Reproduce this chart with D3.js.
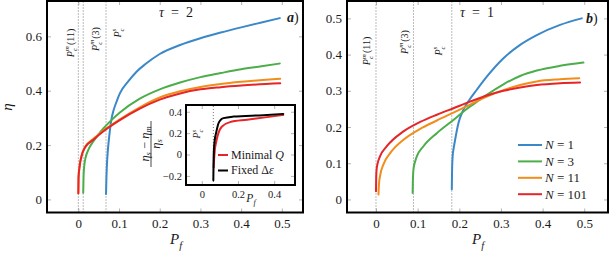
<!DOCTYPE html>
<html>
<head>
<meta charset="utf-8">
<script src="https://cdn.jsdelivr.net/npm/d3@7"></script>
<style>
  body { margin: 0; background: #fff; }
  svg text { font-family: "Liberation Serif", serif; fill: #1a1a1a; }
</style>
</head>
<body>
<svg id="chart" width="609" height="258" font-family="Liberation Serif"></svg>
<script>
// ---- data: panel a (tau = 2), [P_f, eta] ----
const tau2N1 = [[0.068,0.02],[0.069,0.08],[0.070,0.12],[0.072,0.17],[0.075,0.22],[0.078,0.26],[0.082,0.30],[0.086,0.325],[0.094,0.36],[0.102,0.39],[0.123,0.435],[0.143,0.47],[0.164,0.497],[0.2,0.535],[0.25,0.568],[0.3,0.593],[0.35,0.614],[0.4,0.633],[0.45,0.651],[0.495,0.667]];
const tau2N3 = [[0.012,0.025],[0.0125,0.06],[0.013,0.092],[0.015,0.13],[0.018,0.155],[0.025,0.184],[0.037,0.214],[0.05,0.24],[0.061,0.26],[0.08,0.29],[0.102,0.32],[0.15,0.37],[0.2,0.405],[0.25,0.43],[0.3,0.45],[0.35,0.465],[0.4,0.479],[0.45,0.49],[0.495,0.5]];
const tau2N11 = [[0.0,0.024],[0.0005,0.08],[0.003,0.122],[0.008,0.162],[0.016,0.192],[0.037,0.223],[0.061,0.253],[0.1,0.293],[0.15,0.338],[0.2,0.375],[0.25,0.398],[0.3,0.414],[0.35,0.425],[0.4,0.433],[0.496,0.444]];
const tau2N101 = [[0.0,0.022],[0.0005,0.08],[0.003,0.12],[0.008,0.16],[0.016,0.19],[0.037,0.22],[0.061,0.25],[0.1,0.29],[0.15,0.333],[0.2,0.367],[0.25,0.39],[0.3,0.405],[0.35,0.413],[0.4,0.419],[0.496,0.427]];

// ---- data: panel b (tau = 1) ----
const tau1N1 = [[0.182,0.028],[0.1825,0.07],[0.184,0.119],[0.187,0.145],[0.19,0.165],[0.198,0.211],[0.21,0.248],[0.226,0.278],[0.242,0.303],[0.266,0.339],[0.306,0.39],[0.346,0.427],[0.386,0.454],[0.442,0.482],[0.494,0.5]];
const tau1N3 = [[0.088,0.018],[0.0885,0.05],[0.09,0.083],[0.094,0.105],[0.098,0.119],[0.114,0.147],[0.146,0.183],[0.182,0.216],[0.218,0.25],[0.25,0.276],[0.266,0.289],[0.306,0.318],[0.346,0.341],[0.386,0.356],[0.442,0.369],[0.498,0.378]];
const tau1N11 = [[0.006,0.014],[0.007,0.04],[0.0096,0.064],[0.0176,0.096],[0.034,0.128],[0.066,0.165],[0.106,0.195],[0.146,0.218],[0.186,0.24],[0.226,0.262],[0.266,0.284],[0.306,0.302],[0.346,0.316],[0.386,0.326],[0.442,0.332],[0.488,0.335]];
const tau1N101 = [[0.0,0.023],[0.0005,0.06],[0.0015,0.083],[0.004,0.1],[0.0096,0.119],[0.026,0.147],[0.066,0.188],[0.106,0.214],[0.146,0.234],[0.186,0.252],[0.226,0.27],[0.266,0.287],[0.306,0.3],[0.346,0.309],[0.386,0.316],[0.442,0.321],[0.49,0.323]];

// ---- inset: (eta_s - eta_m)/eta_s ----
const insetFixed = [[0.064,-0.24],[0.065,-0.1],[0.067,0.04],[0.072,0.14],[0.079,0.2],[0.092,0.29],[0.105,0.325],[0.12,0.34],[0.175,0.355],[0.34,0.368],[0.45,0.38]];
const insetMinQ = [[0.066,-0.12],[0.068,-0.05],[0.072,0.04],[0.08,0.12],[0.092,0.2],[0.11,0.26],[0.156,0.303],[0.25,0.325],[0.34,0.345],[0.45,0.37]];

const seriesNs = ["1", "3", "11", "101"];
const seriesColors = ["#3b88c8", "#4bae4a", "#f18d1a", "#e52528"];

const xTicksMain = [0, 0.1, 0.2, 0.3, 0.4, 0.5];
const yTicksA = [0, 0.2, 0.4, 0.6];
const yTicksB = [0, 0.1, 0.2, 0.3, 0.4, 0.5];
const xTicksInset = [0, 0.2, 0.4];
const yTicksInset = [-0.2, 0, 0.2, 0.4];

// critical points (dotted lines)
const critA = [0, 0.012, 0.068];
const critB = [0, 0.09, 0.182];
const critInset = [0.064];

const FONT = "Liberation Serif";
const svg = d3.select("#chart");
const fmt = d3.format("~g");

function styleAxis(s, fs) {
  s.attr("font-family", FONT);
  s.select(".domain").remove();
  s.selectAll(".tick line").attr("stroke", "#a0a0a0").attr("stroke-width", 0.8);
  s.selectAll("text").attr("font-size", fs).attr("fill", "#1a1a1a").attr("font-family", FONT);
}

function drawAxes(g, x, y, xt, yt, fs, padX, padY) {
  const [x0, x1] = x.range();
  const [y0, y1] = y.range();
  g.append("g").attr("transform", `translate(0,${y0})`)
    .call(d3.axisBottom(x).tickValues(xt).tickSize(-4).tickPadding(padX).tickFormat(fmt))
    .call(s => styleAxis(s, fs));
  g.append("g").attr("transform", `translate(0,${y1})`)
    .call(d3.axisTop(x).tickValues(xt).tickSize(-4).tickFormat(""))
    .call(s => styleAxis(s, fs));
  g.append("g").attr("transform", `translate(${x0},0)`)
    .call(d3.axisLeft(y).tickValues(yt).tickSize(-4).tickPadding(padY).tickFormat(fmt))
    .call(s => styleAxis(s, fs));
  g.append("g").attr("transform", `translate(${x1},0)`)
    .call(d3.axisRight(y).tickValues(yt).tickSize(-4).tickFormat(""))
    .call(s => styleAxis(s, fs));
}

function drawFrame(g, x, y, w) {
  const [x0, x1] = x.range();
  const [y0, y1] = y.range();
  g.append("rect").attr("x", x0).attr("y", y1).attr("width", x1 - x0).attr("height", y0 - y1)
    .attr("fill", "none").attr("stroke", "#000").attr("stroke-width", w);
}

function drawCrit(g, x, y, vals) {
  const [y0, y1] = y.range();
  g.selectAll(null).data(vals).join("line")
    .attr("x1", d => x(d)).attr("x2", d => x(d))
    .attr("y1", y0).attr("y2", y1)
    .attr("stroke", "#555").attr("stroke-width", 0.8).attr("stroke-dasharray", "1,2");
}

function drawCurves(g, x, y, list, colors, w) {
  const line = d3.line().x(d => x(d[0])).y(d => y(d[1])).curve(d3.curveMonotoneX);
  g.selectAll(null).data(list).join("path")
    .attr("d", line).attr("fill", "none")
    .attr("stroke", (d, i) => colors[i]).attr("stroke-width", w).attr("stroke-linecap", "round");
}

// rotated P_c label, e.g. P_c^m(11)
function pcLabel(g, cx, cy, sup, suffix, fs) {
  const t = g.append("text").attr("transform", `translate(${cx + fs * 0.35},${cy}) rotate(-90)`)
    .attr("text-anchor", "middle").attr("font-size", fs).attr("font-family", FONT);
  const small = fs * 0.7;
  const wSup = sup === "m" ? small * 0.72 : small * 0.39;
  t.append("tspan").attr("font-style", "italic").text("P");
  t.append("tspan").attr("font-style", "italic").attr("font-size", small).attr("dy", -fs * 0.42).text(sup);
  t.append("tspan").attr("font-style", "italic").attr("font-size", small)
    .attr("dx", -wSup).attr("dy", fs * 0.72).text("c");
  if (suffix) {
    t.append("tspan").attr("dx", Math.max(0, wSup - small * 0.44) + 1).attr("dy", -fs * 0.3).text(suffix);
  }
}

function pfLabel(g, cx, by, fs) {
  const t = g.append("text").attr("x", cx).attr("y", by).attr("text-anchor", "middle")
    .attr("font-size", fs).attr("font-family", FONT);
  t.append("tspan").attr("font-style", "italic").text("P");
  t.append("tspan").attr("font-style", "italic").attr("font-size", fs * 0.7).attr("dy", fs * 0.3).text("f");
}

// ================= panel a =================
const xA = d3.scaleLinear().domain([-0.077, 0.552]).range([47, 303]);
const yA = d3.scaleLinear().domain([-0.048, 0.730]).range([212.5, 1]);
const gA = svg.append("g");
drawAxes(gA, xA, yA, xTicksMain, yTicksA, 13, 6, 5);
drawCrit(gA, xA, yA, critA);
drawCurves(gA, xA, yA, [tau2N1, tau2N3, tau2N11, tau2N101], seriesColors, 2);
pcLabel(gA, 70, 43, "m", "(11)", 10);
pcLabel(gA, 95, 39, "m", "(3)", 10);
pcLabel(gA, 117, 33, "s", null, 10);
gA.append("text").attr("x", 176).attr("y", 16.5).attr("text-anchor", "middle").attr("font-size", 14)
  .html('<tspan font-style="italic">τ</tspan>\u2002=\u20022');
gA.append("text").attr("x", 287).attr("y", 21.5).attr("font-size", 14)
  .html('<tspan font-style="italic" font-weight="bold">a</tspan>)');
pfLabel(gA, 176, 244, 15);
gA.append("text").attr("transform", "translate(12,107) rotate(-90)").attr("text-anchor", "middle")
  .attr("font-size", 15).attr("font-style", "italic").text("η");

// inset
const xI = d3.scaleLinear().domain([-0.087, 0.515]).range([186, 295]);
const yI = d3.scaleLinear().domain([-0.285, 0.463]).range([185, 105]);
const gI = svg.append("g");
gI.append("rect").attr("x", 186).attr("y", 105).attr("width", 109).attr("height", 80).attr("fill", "#fff");
drawAxes(gI, xI, yI, xTicksInset, yTicksInset, 10.5, 6, 4);
drawCrit(gI, xI, yI, critInset);
drawCurves(gI, xI, yI, [insetMinQ, insetFixed], ["#e52528", "#000"], 2);
pcLabel(gI, 197, 134, "s", null, 9.5);
const insetLegend = [{ label: "Minimal ", q: "Q", color: "#e52528" }, { label: "Fixed Δ", q: "ε", color: "#000" }];
insetLegend.forEach((d, i) => {
  const yy = 155 + i * 15.5;
  gI.append("line").attr("x1", 218).attr("x2", 228).attr("y1", yy).attr("y2", yy)
    .attr("stroke", d.color).attr("stroke-width", 2);
  gI.append("text").attr("x", 231).attr("y", yy + 3.8).attr("font-size", 12)
    .html(`${d.label}<tspan font-style="italic">${d.q}</tspan>`);
});
pfLabel(gI, 251, 202, 11.5);
drawFrame(gI, xI, yI, 2);
// inset y label: (eta_s - eta_m)/eta_s
const frac = gI.append("g").attr("transform", "translate(151,144) rotate(-90)");
frac.append("text").attr("x", 0).attr("y", -2.5).attr("text-anchor", "middle").attr("font-size", 12.5)
  .html('<tspan font-style="italic">η</tspan><tspan font-size="8.5" font-style="italic" dy="2">s</tspan><tspan dy="-2"> − </tspan><tspan font-style="italic">η</tspan><tspan font-size="8.5" font-style="italic" dy="2">m</tspan>');
frac.append("line").attr("x1", -23).attr("x2", 23).attr("y1", 0).attr("y2", 0).attr("stroke", "#1a1a1a").attr("stroke-width", 0.8);
frac.append("text").attr("x", 0).attr("y", 9).attr("text-anchor", "middle").attr("font-size", 12.5)
  .html('<tspan font-style="italic">η</tspan><tspan font-size="8.5" font-style="italic" dy="2">s</tspan>');

drawFrame(gA, xA, yA, 2);

// ================= panel b =================
const xB = d3.scaleLinear().domain([-0.0696, 0.557]).range([347, 608]);
const yB = d3.scaleLinear().domain([-0.036, 0.548]).range([212.5, 1]);
const gB = svg.append("g");
drawAxes(gB, xB, yB, xTicksMain, yTicksB, 13, 6, 5);
drawCrit(gB, xB, yB, critB);
drawCurves(gB, xB, yB, [tau1N1, tau1N3, tau1N11, tau1N101], seriesColors, 2);
pcLabel(gB, 366.5, 51, "m", "(11)", 10);
pcLabel(gB, 404, 42, "m", "(3)", 10);
pcLabel(gB, 438, 51, "s", null, 10);
gB.append("text").attr("x", 477).attr("y", 16.5).attr("text-anchor", "middle").attr("font-size", 14)
  .html('<tspan font-style="italic">τ</tspan>\u2002=\u20021');
gB.append("text").attr("x", 586).attr("y", 22.5).attr("font-size", 14)
  .html('<tspan font-style="italic" font-weight="bold">b</tspan>)');
pfLabel(gB, 478, 244, 15);

// legend
seriesNs.forEach((n, i) => {
  const yy = 145 + i * 16.4;
  gB.append("line").attr("x1", 518).attr("x2", 542).attr("y1", yy).attr("y2", yy)
    .attr("stroke", seriesColors[i]).attr("stroke-width", 2);
  gB.append("text").attr("x", 545).attr("y", yy + 4.3).attr("font-size", 13)
    .html(`<tspan font-style="italic">N</tspan> = ${n}`);
});
drawFrame(gB, xB, yB, 2);
</script>
</body>
</html>
